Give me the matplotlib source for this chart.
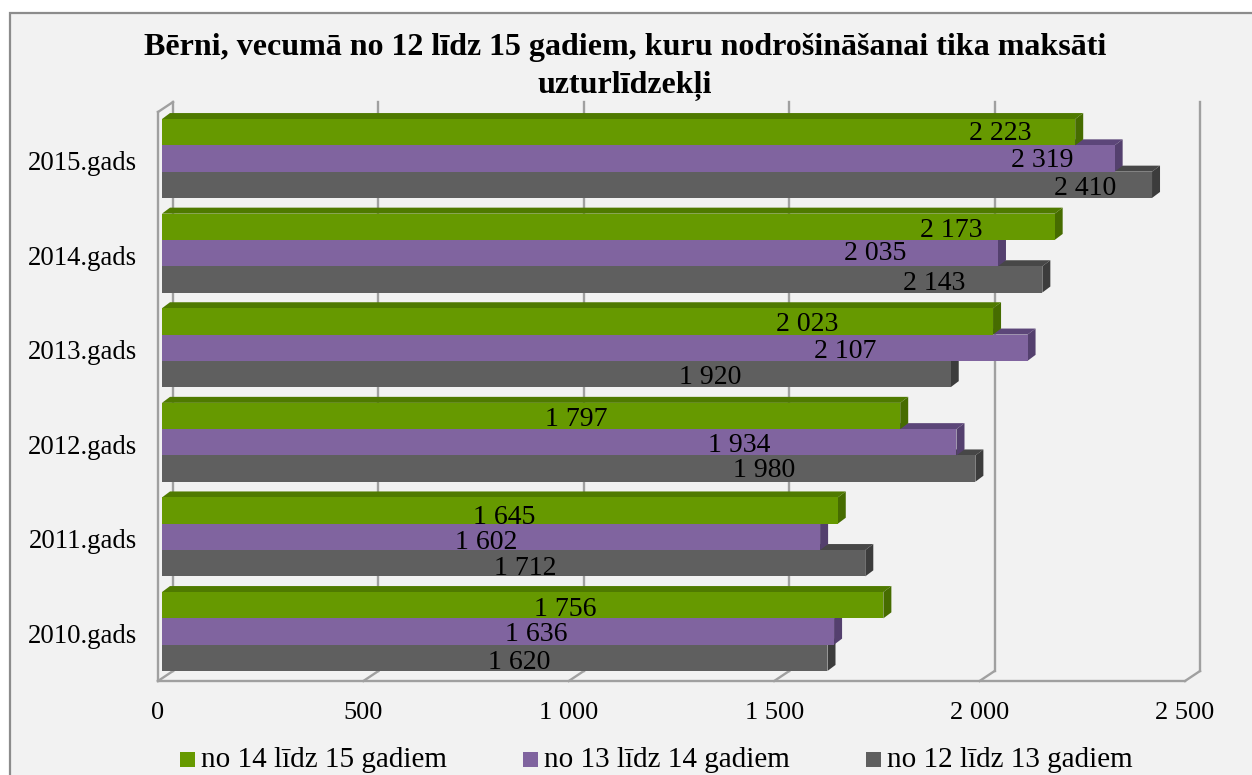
import matplotlib
matplotlib.use("Agg")
import matplotlib.pyplot as plt
from matplotlib.patches import Polygon, Rectangle

years = ["2010.gads", "2011.gads", "2012.gads", "2013.gads", "2014.gads", "2015.gads"]
age_14_15 = [1756, 1645, 1797, 2023, 2173, 2223]
age_13_14 = [1636, 1602, 1934, 2107, 2035, 2319]
age_12_13 = [1620, 1712, 1980, 1920, 2143, 2410]
series_names = ["no 14 līdz 15 gadiem", "no 13 līdz 14 gadiem", "no 12 līdz 13 gadiem"]
xticks = [0, 500, 1000, 1500, 2000, 2500]
xtick_labels = ["0", "500", "1 000", "1 500", "2 000", "2 500"]

# label position, pixels back from the end of each bar (same order as the values)
back_14_15 = [319, 335, 325, 187, 104, 76]
back_13_14 = [299, 335, 218, 183, 124, 73]
back_12_13 = [309, 341, 212, 242, 109, 68]
# and pixels down from the middle of the bar
down_14_15 = [4, 7, 4, 3, 4, 1]
down_13_14 = [3, 6, 3, 4, 0, 2]
down_12_13 = [5, 5, 2, 4, 4, 4]

front = ["#669900", "#80649F", "#5F5F5F"]
top = ["#4F7A00", "#5C4679", "#474747"]
side = ["#466C00", "#54406E", "#3C3C3C"]
wall = "#A0A0A0"
border = "#8C8C8C"

W, H = 1252, 775
plt.rcParams["font.family"] = ["Liberation Serif", "DejaVu Serif"]
fig = plt.figure(figsize=(W / 100, H / 100), dpi=100, facecolor="white")

# chart area with its border, white margin on the left and top
fig.patches.append(Rectangle((9.5 / W, -0.01), 1.01, 1 - 12.5 / H + 0.01, fc="#F2F2F2", ec=border, lw=1.6,
                             transform=fig.transFigure, zorder=-2))

# plot box in pixels: front floor edge, one category = 94.6 px
left, right, bottom = 158, 1185, 681
box_h = 6 * 94.6
ax = fig.add_axes([left / W, 1 - bottom / H, (right - left) / W, box_h / H])
ax.set_xlim(0, 2500)
ax.set_ylim(0, 6)
ax.axis("off")

px = 2500 / (right - left)
py = 6 / box_h


def bar3d(x, yc, color_i):
    # bar sits a little inside the floor, depth goes up and to the right
    h = 26.3 * py
    x0, x1 = 4 * px, x + 4 * px
    y0, y1 = yc - h / 2, yc + h / 2
    dx, dy = 8 * px, 6 * py
    ax.add_patch(Polygon([(x0, y1), (x1, y1), (x1 + dx, y1 + dy), (x0 + dx, y1 + dy)],
                         fc=top[color_i], ec="none", clip_on=False, zorder=3))
    ax.add_patch(Polygon([(x1, y0), (x1 + dx, y0 + dy), (x1 + dx, y1 + dy), (x1, y1)],
                         fc=side[color_i], ec="none", clip_on=False, zorder=3))
    ax.add_patch(Rectangle((x0, y0), x, h, fc=front[color_i], ec="none", clip_on=False, zorder=3))


# back wall and floor
wdx, wdy = 15 * px, 10 * py
top_y = (bottom - 102) * py
for t in xticks:
    ax.plot([t, t + wdx], [0, wdy], color=wall, lw=1.7, clip_on=False, zorder=1)
    ax.plot([t + wdx, t + wdx], [wdy, top_y], color=wall, lw=1.7, clip_on=False, zorder=1)
ax.plot([0, 2500], [0, 0], color=wall, lw=1.7, clip_on=False, zorder=1)
ax.plot([0, 0], [0, top_y - wdy], color=wall, lw=1.7, clip_on=False, zorder=1)
ax.plot([0, wdx], [top_y - wdy, top_y], color=wall, lw=1.7, clip_on=False, zorder=1)

series = [age_14_15, age_13_14, age_12_13]
backs = [back_14_15, back_13_14, back_12_13]
downs = [down_14_15, down_13_14, down_12_13]

# top group first, and grey before green inside a group, so nearer faces cover the depth
for k in range(5, -1, -1):
    yc = k + 0.5 + 2.2 * py
    for i in (2, 1, 0):
        bar3d(series[i][k], yc + (1 - i) * 26.3 * py, i)

for k in range(6):
    yc = k + 0.5 + 2.2 * py
    for i in range(3):
        ax.annotate(f"{series[i][k]:,}".replace(",", " "),
                    xy=(series[i][k], yc + (1 - i) * 26.3 * py),
                    xytext=(5 - backs[i][k], -downs[i][k]), textcoords="offset pixels",
                    ha="center", va="center", fontsize=20, color="black",
                    annotation_clip=False, zorder=5)
    ax.text(-21 * px, yc - 5 * py, years[k], ha="right", va="center", fontsize=19.3)

for t, lab in zip(xticks, xtick_labels):
    ax.text(t, -32 * py, lab, ha="center", va="center", fontsize=19)

fig.text(625 / W, 1 - 48 / H, "Bērni, vecumā no 12 līdz 15 gadiem, kuru nodrošināšanai tika maksāti",
         ha="center", va="center", fontsize=23, fontweight="bold")
fig.text(625 / W, 1 - 86 / H, "uzturlīdzekļi", ha="center", va="center", fontsize=23, fontweight="bold")

# legend, placed by hand
for x_px, name, c in zip([180, 523, 866], series_names, front):
    fig.patches.append(Rectangle((x_px / W, 1 - 767 / H), 15 / W, 15 / H, fc=c, ec="none",
                                 transform=fig.transFigure))
    fig.text((x_px + 21) / W, 1 - 760 / H, name, ha="left", va="center", fontsize=21)

fig.savefig("out.png", dpi=100, facecolor=fig.get_facecolor())
